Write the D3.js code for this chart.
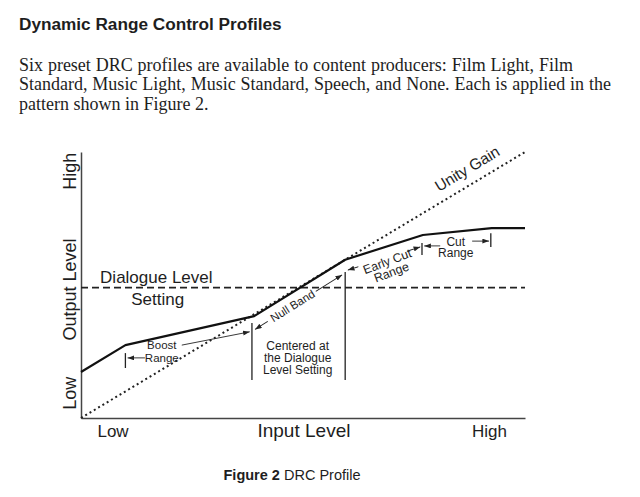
<!DOCTYPE html>
<html>
<head>
<meta charset="utf-8">
<script src="https://cdn.jsdelivr.net/npm/d3@7"></script>
<style>
  body { margin: 0; background: #fff; }
  svg text { font-family: "Liberation Sans", Arial, sans-serif; fill: #1e1e1e; }
  svg .serif { font-family: "Liberation Serif", "Times New Roman", serif; }
</style>
</head>
<body>
<div id="chart"></div>
<script>
// profile knee points (input level -> output level, 0..100 scale)
const profileIn = [0, 10, 39, 59.5, 77, 92.5, 100];
const profileOut = [17.3, 27.4, 38.3, 59.5, 68.8, 71.4, 71.4];
const unityIn = [0, 100];
const unityOut = [0, 100];
const dialogueLevel = 49;

// boundaries of the ranges (vertical markers)
const markerIn = [10, 38.5, 59.5, 76.8, 92.3];
const markerLo = [18.8, 14.3, 14.3, 61.3, 64.3];
const markerHi = [24.4, 35.7, 54.9, 65.8, 69.5];

// axis labels
const xLabels = ["Low", "Input Level", "High"];
const xLabelPos = [7.1, 50.1, 91.9];
const yLabels = ["Low", "Output Level", "High"];
const yLabelPos = [9.5, 48.5, 93];

const paragraph = [
  "Six preset DRC profiles are available to content producers: Film Light, Film",
  "Standard, Music Light, Music Standard, Speech, and None. Each is applied in the",
  "pattern shown in Figure 2."
];
// justified line ends (last line is left ragged)
const paraLineEnd = [573, 611, null];

const width = 640;
const height = 497;

const svg = d3.select('#chart')
  .append('svg')
  .attr('width', width)
  .attr('height', height);

const defs = svg.append('defs');
defs.append('marker')
  .attr('id', 'arrow')
  .attr('viewBox', '0 0 8 6')
  .attr('refX', 8).attr('refY', 3)
  .attr('markerWidth', 7).attr('markerHeight', 5)
  .attr('markerUnits', 'userSpaceOnUse')
  .attr('orient', 'auto')
  .append('path')
  .attr('d', 'M0,0 L8,3 L0,6 Z')
  .attr('fill', '#222');

// header text
svg.append('text')
  .attr('x', 19).attr('y', 30)
  .attr('font-size', 17.2)
  .attr('font-weight', 'bold')
  .text('Dynamic Range Control Profiles');

const para = svg.selectAll('text.para')
  .data(paragraph)
  .enter()
  .append('text')
  .attr('class', 'para serif')
  .attr('x', 19)
  .attr('y', (d, i) => [70.5, 90, 109.5][i])
  .attr('font-size', 18)
  .text(d => d);

// stretch word spacing so the lines are justified like the original
para.each(function (d, i) {
  if (paraLineEnd[i] === null) return;
  const len = this.getComputedTextLength();
  const spaces = d.split(' ').length - 1;
  const extra = (paraLineEnd[i] - 19 - len) / spaces;
  d3.select(this).attr('word-spacing', Math.max(0, extra));
});

// scales
const x = d3.scaleLinear().domain([0, 100]).range([81, 525]);
const y = d3.scaleLinear().domain([0, 100]).range([418, 152]);

// axes
const xAxis = svg.append('g')
  .attr('transform', 'translate(0,' + y(0) + ')')
  .call(d3.axisBottom(x).tickValues(xLabelPos).tickSize(0).tickFormat((d, i) => xLabels[i]));
xAxis.select('.domain').attr('stroke', '#444').attr('stroke-width', 1.5);
xAxis.selectAll('text')
  .attr('y', 19).attr('dy', 0)
  .attr('font-size', (d, i) => i === 1 ? 19 : 17)
  .style('font-family', '"Liberation Sans", Arial, sans-serif')
  .attr('fill', '#1e1e1e');

const yAxis = svg.append('g')
  .attr('transform', 'translate(' + x(0) + ',0)')
  .call(d3.axisLeft(y).tickValues(yLabelPos).tickSize(0).tickFormat((d, i) => yLabels[i]));
yAxis.select('.domain').attr('stroke', '#444').attr('stroke-width', 1.5);
yAxis.selectAll('text')
  .attr('transform', 'rotate(-90)')
  .attr('x', 0).attr('y', -5).attr('dy', 0)
  .attr('text-anchor', 'middle')
  .attr('font-size', 18)
  .style('font-family', '"Liberation Sans", Arial, sans-serif')
  .attr('fill', '#1e1e1e');

// dialogue level
svg.append('line')
  .attr('x1', x(0)).attr('x2', x(100))
  .attr('y1', y(dialogueLevel)).attr('y2', y(dialogueLevel))
  .attr('stroke', '#222')
  .attr('stroke-width', 1.6)
  .attr('stroke-dasharray', '7,4');

// unity gain
const line = d3.line().x(d => x(d[0])).y(d => y(d[1]));
svg.append('path')
  .attr('d', line(unityIn.map((v, i) => [v, unityOut[i]])))
  .attr('fill', 'none')
  .attr('stroke', '#222')
  .attr('stroke-width', 2)
  .attr('stroke-dasharray', '2,3');

// profile
svg.append('path')
  .attr('d', line(profileIn.map((v, i) => [v, profileOut[i]])))
  .attr('fill', 'none')
  .attr('stroke', '#111')
  .attr('stroke-width', 2.2)
  .attr('stroke-linejoin', 'round');

// range markers
svg.selectAll('line.marker')
  .data(markerIn)
  .enter()
  .append('line')
  .attr('class', 'marker')
  .attr('x1', d => x(d)).attr('x2', d => x(d))
  .attr('y1', (d, i) => y(markerLo[i]))
  .attr('y2', (d, i) => y(markerHi[i]))
  .attr('stroke', '#222')
  .attr('stroke-width', 1.3);

function arrow(x1, y1, x2, y2) {
  svg.append('line')
    .attr('x1', x(x1)).attr('y1', y(y1))
    .attr('x2', x(x2)).attr('y2', y(y2))
    .attr('stroke', '#222')
    .attr('stroke-width', 0.9)
    .attr('marker-end', 'url(#arrow)');
}

// rotated label with arrows on both sides
function bandLabel(x1, y1, x2, y2, lines, textOffset, gapL, gapR, lineDy, rot, fs) {
  const px1 = x(x1), py1 = y(y1), px2 = x(x2), py2 = y(y2);
  const len = Math.hypot(px2 - px1, py2 - py1);
  const ang = Math.atan2(py2 - py1, px2 - px1) * 180 / Math.PI;
  const g = svg.append('g')
    .attr('transform', 'translate(' + ((px1 + px2) / 2) + ',' + ((py1 + py2) / 2) + ') rotate(' + ang + ')');
  g.append('line')
    .attr('x1', -len / 2 + gapL).attr('x2', -len / 2).attr('y1', 0).attr('y2', 0)
    .attr('stroke', '#222').attr('stroke-width', 0.9).attr('marker-end', 'url(#arrow)');
  g.append('line')
    .attr('x1', len / 2 - gapR).attr('x2', len / 2).attr('y1', 0).attr('y2', 0)
    .attr('stroke', '#222').attr('stroke-width', 0.9).attr('marker-end', 'url(#arrow)');
  g.append('g')
    .attr('transform', 'translate(' + textOffset + ',0) rotate(' + rot + ')')
    .selectAll('text')
    .data(lines)
    .enter()
    .append('text')
    .attr('y', (d, i) => lineDy[i])
    .attr('text-anchor', 'middle')
    .attr('font-size', fs)
    .text(d => d);
}

// boost range
arrow(14.4, 22.6, 10.5, 22.6);
arrow(22.7, 27.4, 38.0, 32.4);
svg.selectAll('text.boost')
  .data(['Boost', 'Range'])
  .enter()
  .append('text')
  .attr('class', 'boost')
  .attr('x', x(18.2))
  .attr('y', (d, i) => y(i === 0 ? 25.9 : 21.1))
  .attr('text-anchor', 'middle')
  .attr('font-size', 11.5)
  .text(d => d);

// null band
bandLabel(39.2, 33.3, 58.8, 53.8, ['Null Band'], -7, 15, 31, [4], 0, 11.5);

// early cut range
bandLabel(60.1, 55.6, 76.4, 64.3, ['Early Cut', 'Range'], 2, 11, 14, [8, 19.5], -3, 12.3);

// cut range
arrow(80.9, 64.7, 77.3, 64.7);
arrow(88.1, 66.5, 91.9, 66.5);
svg.selectAll('text.cut')
  .data(['Cut', 'Range'])
  .enter()
  .append('text')
  .attr('class', 'cut')
  .attr('x', x(84.4))
  .attr('y', (d, i) => i === 0 ? y(64.7) : y(64.7) + 11.5)
  .attr('text-anchor', 'middle')
  .attr('font-size', 12)
  .text(d => d);

// centered note
svg.selectAll('text.note')
  .data(['Centered at', 'the Dialogue', 'Level Setting'])
  .enter()
  .append('text')
  .attr('class', 'note')
  .attr('x', x(48.8))
  .attr('y', (d, i) => y(25.5) + i * 11.8)
  .attr('text-anchor', 'middle')
  .attr('font-size', 12)
  .text(d => d);

// dialogue level label
svg.append('text')
  .attr('x', x(4.3)).attr('y', y(dialogueLevel) - 5)
  .attr('font-size', 17)
  .text('Dialogue Level');
svg.append('text')
  .attr('x', x(11.3)).attr('y', y(dialogueLevel) + 17)
  .attr('font-size', 17)
  .text('Setting');

// unity gain label
const ugx = x(87.6), ugy = y(92);
svg.append('text')
  .attr('transform', 'translate(' + ugx + ',' + ugy + ') rotate(' + (Math.atan2(y(100) - y(0), x(100) - x(0)) * 180 / Math.PI) + ')')
  .attr('text-anchor', 'middle')
  .attr('font-size', 15.5)
  .text('Unity Gain');

// caption
const cap = svg.append('text')
  .attr('x', 292).attr('y', 480)
  .attr('text-anchor', 'middle')
  .attr('font-size', 14.5);
cap.append('tspan').attr('font-weight', 'bold').text('Figure 2');
cap.append('tspan').text(' DRC Profile');
</script>
</body>
</html>
